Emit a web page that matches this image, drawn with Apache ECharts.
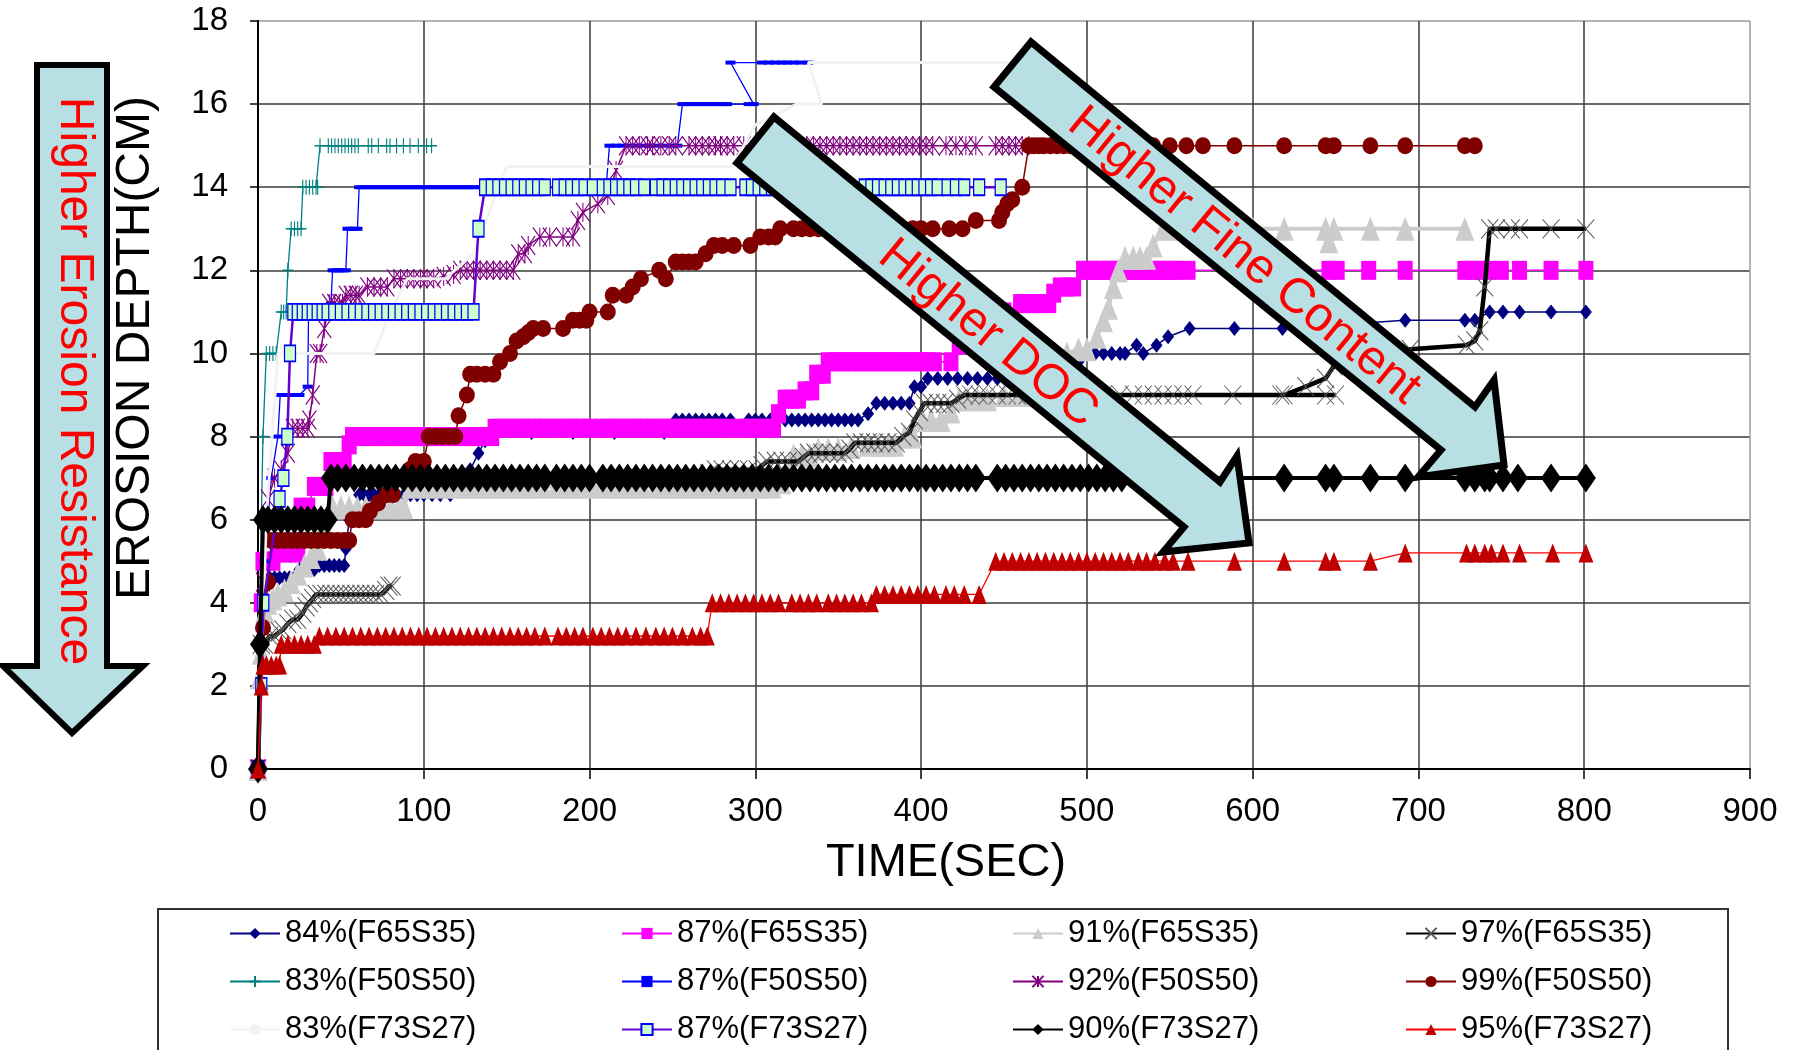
<!DOCTYPE html>
<html><head><meta charset="utf-8">
<script src="https://cdn.jsdelivr.net/npm/echarts@6/dist/echarts.min.js"></script>
<style>html,body{margin:0;padding:0;background:#fff}#c{width:1799px;height:1050px}</style>
</head><body><div id="c"></div>
<script>
// ---------- axis settings ----------
const xMin = 0, xMax = 900, xStep = 100;
const yMin = 0, yMax = 18, yStep = 2;
const xTitle = 'TIME(SEC)';
const yTitle = 'EROSION DEPTH(CM)';

// ---------- series names ----------
const names = ['84%(F65S35)','87%(F65S35)','91%(F65S35)','97%(F65S35)',
               '83%(F50S50)','87%(F50S50)','92%(F50S50)','99%(F50S50)',
               '83%(F73S27)','87%(F73S27)','90%(F73S27)','95%(F73S27)'];

// ---------- data [time, depth] ----------
const d84_F65S35 = [[0,0],[3,4.0],[5,4.4],[7,4.6],[10,4.6],[13,4.6],[16,4.6],[19,4.6],[22,4.6],[25,4.8],[28,4.8],[31,4.8],[34,4.8],[37,4.9],[40,4.9],[43,4.9],[46,4.9],[49,4.9],[52,4.9],[53,5.3],[55,6.0],[58,6.0],[61,6.6],[64,6.6],[67,6.6],[70,6.6],[73,6.6],[76,6.6],[80,6.6],[84,6.6],[88,6.6],[92,6.6],[96,6.6],[100,6.6],[105,6.6],[110,6.6],[116,6.6],[128,7.2],[133,7.6],[137,7.9],[142,8.1],[165,8.1],[190,8.1],[215,8.1],[245,8.1],[252,8.4],[256,8.4],[260,8.4],[264,8.4],[268,8.4],[272,8.4],[276,8.4],[280,8.4],[285,8.4],[296,8.4],[300,8.4],[304,8.4],[309,8.4],[313,8.4],[318,8.4],[322,8.4],[326,8.4],[330,8.4],[334,8.4],[338,8.4],[342,8.4],[346,8.4],[350,8.4],[354,8.4],[358,8.4],[362,8.4],[368,8.55],[373,8.8],[378,8.8],[383,8.8],[388,8.8],[393,8.8],[396,9.2],[400,9.2],[404,9.4],[410,9.4],[416,9.4],[422,9.4],[428,9.4],[434,9.4],[440,9.4],[446,9.4],[452,9.4],[465,9.5],[480,9.6],[495,9.8],[500,10],[505,10],[510,10],[515,10],[520,10],[523,10],[530,10.2],[534,10],[542,10.2],[549,10.4],[562,10.6],[589,10.6],[618,10.6],[692,10.8],[728,10.8],[734,10.8],[743,11],[751,11],[761,11],[780,11],[801,11]];

const d87_F65S35 = [[0,0],[2,4.0],[3,5.0],[6,5.0],[9,5.0],[12,5.2],[16,5.2],[20,5.2],[24,5.2],[26,6.3],[30,6.3],[34,6.8],[38,6.8],[41,6.8],[44,7.4],[48,7.4],[52,7.4],[55,7.8],[57,8.0],[61,8.0],[65,8.0],[69,8.0],[73,8.0],[77,8.0],[81,8.0],[85,8.0],[89,8.0],[93,8.0],[97,8.0],[101,8.0],[105,8.0],[109,8.0],[113,8.0],[117,8.0],[121,8.0],[125,8.0],[129,8.0],[133,8.0],[137,8.0],[141,8.0],[143,8.2],[147,8.2],[151,8.2],[155,8.2],[159,8.2],[163,8.2],[167,8.2],[171,8.2],[174,8.2],[180,8.2],[184,8.2],[188,8.2],[192,8.2],[196,8.2],[200,8.2],[207,8.2],[211,8.2],[215,8.2],[219,8.2],[223,8.2],[227,8.2],[231,8.2],[234,8.2],[239,8.2],[243,8.2],[247,8.2],[251,8.2],[255,8.2],[259,8.2],[263,8.2],[267,8.2],[271,8.2],[275,8.2],[279,8.2],[283,8.2],[291,8.2],[295,8.2],[299,8.2],[303,8.2],[307,8.2],[311,8.2],[314,8.55],[318,8.9],[322,8.9],[326,8.9],[330,9.1],[334,9.1],[337,9.5],[341,9.5],[344,9.8],[348,9.8],[352,9.8],[356,9.8],[360,9.8],[364,9.8],[368,9.8],[372,9.8],[376,9.8],[380,9.8],[384,9.8],[388,9.8],[392,9.8],[396,9.8],[400,9.8],[404,9.8],[408,9.8],[418,9.8],[423,10.2],[430,10.5],[440,10.8],[450,11.0],[460,11.2],[464,11.2],[468,11.2],[472,11.2],[477,11.2],[480,11.45],[484,11.6],[488,11.6],[492,11.6],[498,12],[502,12],[506,12],[510,12],[514,12],[518,12],[522,12],[526,12],[530,12],[534,12],[538,12],[542,12],[546,12],[550,12],[554,12],[561,12],[646,12],[651,12],[670,12],[692,12],[728,12],[733,12],[738,12],[743,12],[750,12],[761,12],[780,12],[801,12]];

const d91_F65S35 = [[0,0],[1,2.2],[2,2.8],[4,3.8],[6,4.0],[9,4.1],[12,4.2],[16,4.3],[20,4.5],[24,4.7],[28,4.9],[32,5.1],[36,5.3],[40,5.8],[45,6.3],[50,6.3],[55,6.3],[60,6.3],[65,6.3],[70,6.3],[75,6.3],[80,6.3],[85,6.3],[88,6.3],[92,6.8],[97,6.8],[102,6.8],[107,6.8],[112,6.8],[117,6.8],[122,6.8],[127,6.8],[132,6.8],[137,6.8],[142,6.8],[147,6.8],[152,6.8],[157,6.8],[162,6.8],[167,6.8],[172,6.8],[180,6.8],[185,6.8],[190,6.8],[195,6.8],[200,6.8],[207,6.8],[212,6.8],[217,6.8],[222,6.8],[227,6.8],[232,6.8],[240,6.8],[245,6.8],[250,6.8],[255,6.8],[260,6.8],[265,6.8],[270,6.8],[275,6.8],[280,6.8],[285,6.8],[290,6.8],[295,6.8],[300,6.8],[305,6.8],[310,6.8],[316,6.9],[323,7.55],[328,7.55],[333,7.55],[338,7.7],[344,7.7],[350,7.7],[358,7.75],[368,7.8],[374,7.8],[380,7.8],[384,7.8],[390,8.0],[395,8.0],[401,8.4],[406,8.4],[412,8.4],[418,8.6],[423,8.9],[428,8.9],[434,8.9],[440,8.9],[450,9.0],[460,9.0],[470,9.2],[480,9.6],[488,10.0],[495,10.1],[500,10.1],[506,10.4],[510,10.8],[513,11.1],[516,11.6],[519,12.0],[523,12.3],[528,12.3],[532,12.3],[536,12.3],[540,12.6],[546,13],[552,13],[558,13],[566,13],[580,13],[600,13],[619,13],[644,13],[646,12.7],[649,13],[671,13],[692,13],[728,13]];

const d97_F65S35 = [[0,0],[2,3.0],[4,3.0],[7,3.2],[10,3.2],[13,3.3],[15,3.35],[18,3.5],[21,3.6],[24,3.6],[27,3.75],[29,3.9],[31,4.0],[33,4.1],[35,4.2],[38,4.2],[41,4.2],[44,4.2],[47,4.2],[50,4.2],[53,4.2],[56,4.2],[59,4.2],[62,4.2],[65,4.2],[68,4.2],[71,4.2],[74,4.2],[77,4.3],[79,4.4],[81,4.4],[82,'-'],
  [272,7.1],[276,7.2],[280,7.2],[285,7.2],[290,7.2],[296,7.2],[301,7.2],[304,7.3],[307,7.4],[312,7.4],[316,7.4],[320,7.4],[326,7.4],[329,7.5],[332,7.6],[336,7.6],[340,7.6],[345,7.6],[350,7.6],[354,7.6],[357,7.7],[360,7.85],[364,7.85],[368,7.85],[372,7.85],[376,7.85],[380,7.85],[385,7.85],[389,8.0],[393,8.1],[396,8.4],[399,8.6],[402,8.8],[406,8.8],[410,8.8],[414,8.8],[418,8.8],[422,8.9],[426,9.0],[430,9.0],[435,9.0],[440,9.0],[446,9.0],[452,9.0],[458,9.0],[464,9.0],[470,9.0],[476,9.0],[482,9.0],[490,9.0],[500,9.0],[510,9.0],[520,9.0],[528,9.0],[534,9.0],[540,9.0],[546,9.0],[552,9.0],[558,9.0],[564,9.0],[588,9.0],[617,9.0],[644,9.0],[650,9.0],[651,'-'],
  [619,9.0],[632,9.2],[644,9.4],[649,9.7],[660,9.9],[695,10.1],[729,10.2],[734,10.3],[737,10.55],[740,11.6],[743,13],[747,13],[756,13],[761,13],[780,13],[801,13]];

const d83_F50S50 = [[0,0],[2,6],[3,8],[5,10],[7,10],[9,10],[11,10],[14,11],[15.5,11],[17,11],[18,12],[20,13],[22,13],[24,13],[26,13],[27,14],[29,14],[31,14],[33,14],[35,14],[36,14],[37.4,15],[42.4,15],[44.4,15],[46.4,15],[48.4,15],[50.5,15],[52.5,15],[54.5,15],[56.5,15],[58.5,15],[60.5,15],[66.5,15],[68.6,15],[72.6,15],[77.6,15],[79.6,15],[83.6,15],[87.7,15],[91.7,15],[96.7,15],[101.7,15],[104.7,15]];

const d87_F50S50 = [[0,0],[4,5],[8,7],[12,8],[13.4,9],[16,9],[19,9],[22,9],[25,9],[30,9.2],[30.5,11],[35,11],[40,11],[44,11.2],[45,12],[47,12],[49,12],[51,12],[53,12],[54,13],[56,13],[58,13],[60,13],[61,14],[64,14],[67,14],[70,14],[73,14],[76,14],[79,14],[82,14],[85,14],[88,14],[91,14],[94,14],[97,14],[100,14],[103,14],[106,14],[109,14],[112,14],[115,14],[118,14],[121,14],[124,14],[127,14],[130,14],[134,14],[170,14],[210,14],[212,15],[216,15],[220,15],[224,15],[228,15],[232,15],[236,15],[241,15],[246,15],[250,15],[253,15],[256,16],[259,16],[262,16],[265,16],[268,16],[271,16],[274,16],[277,16],[280,16],[283,16],[296,16],[299,16],[285,17],[304,17],[308,17],[312,17],[316,17],[319,17],[323,17],[327,17],[332,17]];

const d92_F50S50 = [[0,0],[3,4.5],[6,6.5],[10,7.0],[14,7.2],[18,7.6],[21,8.2],[24,8.2],[27,8.2],[30,8.2],[31,8.4],[33,9.0],[35.5,10.0],[37.5,10.0],[40,10.6],[43,11.2],[46,11.2],[49,11.2],[51,11.2],[53,11.4],[56,11.4],[59,11.4],[61,11.4],[66,11.6],[70,11.6],[74,11.6],[78,11.6],[82,11.8],[86,11.8],[90,11.8],[94,11.8],[98,11.8],[102,11.8],[106,11.8],[112,11.85],[118,11.9],[122,12.0],[126,12.0],[130,12.0],[134,12],[138,12],[142,12],[146,12],[150,12],[154,12],[157,12.4],[161,12.4],[163,12.6],[170,12.8],[176,12.8],[184,12.8],[190,12.8],[193,13.2],[196,13.4],[205,13.6],[211,13.8],[216,14.4],[222,15],[226,15],[230,15],[235,15],[238,15],[243,15],[248,15],[252,15],[260,15],[264,15],[268,15],[272,15],[276,15],[279,15],[283,15],[287,15],[293,15],[305,15],[318,15],[331,15],[335,15],[339,15],[343,15],[347,15],[351,15],[355,15],[359,15],[363,15],[367,15],[371,15],[375,15],[379,15],[383,15],[387,15],[391,15],[395,15],[399,15],[403,15],[407,15],[415,15],[421,15],[427,15],[433,15],[445,15],[449,15],[453,15],[457,15],[461,15]];

const d99_F50S50 = [[0,0],[3,3.4],[6,4.5],[8,5.5],[12,5.5],[16,5.5],[20,5.5],[24,5.5],[28,5.5],[32,5.5],[36,5.5],[40,5.5],[44,5.5],[48,5.5],[52,5.5],[55,5.5],[57,6.0],[61,6.0],[65,6.0],[67.5,6.2],[72.5,6.4],[77.5,6.6],[81.5,6.6],[91.5,7.2],[95,7.4],[100,7.4],[103,8.0],[107,8.0],[111,8.0],[115,8.0],[119,8.0],[121,8.5],[126,9.0],[128,9.5],[132,9.5],[137,9.5],[142,9.5],[146,9.8],[152,10.0],[156,10.3],[160,10.4],[163,10.5],[166,10.6],[172,10.6],[184,10.6],[190,10.8],[194,10.8],[198,10.8],[200,11.0],[211,11.0],[214,11.4],[222,11.4],[226,11.6],[231,11.8],[242,12.0],[246,11.8],[252,12.2],[256,12.2],[260,12.2],[264,12.2],[270,12.4],[275,12.6],[280,12.6],[287,12.6],[297,12.6],[303,12.8],[308,12.8],[312,12.8],[315,13.0],[323,13],[328,13],[333,13],[338,13],[343,13],[350,13],[360,13],[370,13],[380,13],[395,13],[400,13],[407,13],[417,13],[425,13],[433,13.2],[447,13.2],[449,13.4],[452,13.6],[455,13.7],[461,14.0],[465,15],[468,15],[471,15],[474,15],[478,15],[482,15],[486,15],[490,15],[500,15],[510,15],[520,15],[534,15],[540,15],[550,15],[560,15],[570,15],[589,15],[619,15],[644,15],[649,15],[671,15],[692,15],[728,15],[734,15]];

const d83_F73S27 = [[0,0],[5,6],[12,10],[30,10],[50,10],[70,10],[80,11],[90,11.8],[113,11.8],[130,12.4],[150,14.5],[200,14.5],[236,14.5],[260,14.5],[286,14.5],[300,15.5],[325,16],[340,16],[332,17],[350,17],[400,17],[453,17]];

const d87_F73S27 = [[0,0],[2,2.0],[3.2,4.0],[13,6.5],[15.3,7.0],[17.7,8.0],[19.3,10.0],[21.3,11.0],[24,11],[27,11],[30,11],[33,11],[36,11],[39,11],[42,11],[46,11],[50,11],[54,11],[58,11],[62,11],[66,11],[70,11],[74,11],[78,11],[82,11],[86,11],[90,11],[94,11],[98,11],[102,11],[106,11],[110,11],[114,11],[118,11],[122,11],[126,11],[130,11],[133,13],[137,14],[141,14],[145,14],[149,14],[153,14],[157,14],[161,14],[165,14],[169,14],[173,14],[181,14],[185,14],[189,14],[193,14],[197,14],[202,14],[208,14],[212,14],[216,14],[220,14],[224,14],[228,14],[233,14],[240,14],[244,14],[248,14],[252,14],[256,14],[260,14],[264,14],[268,14],[272,14],[276,14],[280,14],[285,14],[294,14],[298,14],[302,14],[306,14],[310,14],[330,14],[350,14],[366,14],[370,14],[374,14],[378,14],[382,14],[386,14],[390,14],[394,14],[398,14],[402,14],[406,14],[410,14],[416,14],[421,14],[426,14],[435,14],[448,14]];

const d90_F73S27 = [[0,0],[1.2,3.0],[3,6],[6,6],[10,6],[14,6],[18,6],[22,6],[26,6],[30,6],[34,6],[38,6],[42,6],[44,7],[48,7],[53,7],[58,7],[63,7],[68,7],[73,7],[78,7],[83,7],[88,7],[93,7],[98,7],[103,7],[108,7],[113,7],[118,7],[123,7],[128,7],[133,7],[138,7],[143,7],[148,7],[153,7],[158,7],[163,7],[168,7],[173,7],[180,7],[185,7],[190,7],[195,7],[200,7],[208,7],[213,7],[218,7],[223,7],[228,7],[233,7],[238,7],[243,7],[248,7],[253,7],[258,7],[263,7],[268,7],[273,7],[278,7],[283,7],[288,7],[293,7],[298,7],[303,7],[308,7],[313,7],[318,7],[323,7],[328,7],[333,7],[338,7],[343,7],[348,7],[353,7],[358,7],[363,7],[368,7],[373,7],[378,7],[383,7],[388,7],[393,7],[398,7],[403,7],[408,7],[413,7],[418,7],[423,7],[428,7],[433,7],[446,7],[451,7],[456,7],[461,7],[466,7],[471,7],[476,7],[481,7],[486,7],[491,7],[496,7],[501,7],[506,7],[511,7],[516,7],[521,7],[530,7],[540,7],[619,7],[644,7],[649,7],[671,7],[692,7],[728,7],[734,7],[740,7],[743,7],[751,7],[760,7],[780,7],[801,7]];

const d95_F73S27 = [[0,0],[2,2.0],[3,2.5],[5,2.5],[8,2.5],[11,2.5],[13,2.5],[14,3.0],[18,3.0],[22,3.0],[26,3.0],[30,3.0],[34,3.0],[37,3.2],[42,3.2],[47,3.2],[52,3.2],[57,3.2],[62,3.2],[67,3.2],[72,3.2],[77,3.2],[82,3.2],[87,3.2],[92,3.2],[97,3.2],[102,3.2],[107,3.2],[112,3.2],[117,3.2],[122,3.2],[127,3.2],[132,3.2],[137,3.2],[142,3.2],[147,3.2],[152,3.2],[157,3.2],[162,3.2],[167,3.2],[173,3.2],[181,3.2],[186,3.2],[191,3.2],[196,3.2],[202,3.2],[207,3.2],[212,3.2],[217,3.2],[222,3.2],[228,3.2],[234,3.2],[240,3.2],[245,3.2],[250,3.2],[256,3.2],[262,3.2],[267,3.2],[271,3.2],[274,4.0],[279,4.0],[284,4.0],[289,4.0],[294,4.0],[299,4.0],[304,4.0],[309,4.0],[314,4.0],[322,4.0],[327,4.0],[332,4.0],[337,4.0],[344,4.0],[349,4.0],[354,4.0],[359,4.0],[364,4.0],[370,4.0],[373,4.2],[378,4.2],[383,4.2],[388,4.2],[393,4.2],[398,4.2],[403,4.2],[408,4.2],[415,4.2],[420,4.2],[426,4.2],[435,4.2],[445,5.0],[450,5.0],[455,5.0],[460,5.0],[465,5.0],[470,5.0],[475,5.0],[480,5.0],[485,5.0],[490,5.0],[495,5.0],[500,5.0],[505,5.0],[510,5.0],[515,5.0],[520,5.0],[525,5.0],[531,5.0],[536,5.0],[541,5.0],[547,5.0],[552,5.0],[561,5.0],[589,5.0],[619,5.0],[644,5.0],[649,5.0],[671,5.0],[692,5.2],[729,5.2],[734,5.2],[740,5.2],[744,5.2],[751,5.2],[761,5.2],[781,5.2],[801,5.2]];

const allData = [d84_F65S35,d87_F65S35,d91_F65S35,d97_F65S35,d83_F50S50,d87_F50S50,d92_F50S50,d99_F50S50,d83_F73S27,d87_F73S27,d90_F73S27,d95_F73S27];

// ---------- styles ----------
const FONT = '"Liberation Sans", Arial, sans-serif';
const X_PATH = 'path://M0,0L10,10M10,0L0,10';
const PLUS_PATH = 'path://M5,0L5,10M0,5L10,5';
const STAR_PATH = 'path://M0,0L10,10M10,0L0,10M5,0L5,10';
const styles = [
  {line:'#000080', lw:1.5, sym:'diamond', size:[12,15], fill:'#000080'},
  {line:'#FF00FF', lw:1.5, sym:'rect', size:[15,19], fill:'#FF00FF'},
  {line:'#CCCCCC', lw:4, sym:'triangle', size:[19,24], fill:'#CCCCCC'},
  {line:'#000000', lw:4.5, sym:X_PATH, size:[17,19], fill:'none', border:'#555555', bw:1},
  {line:'#008080', lw:1.3, sym:PLUS_PATH, size:[11,15], fill:'none', border:'#008080', bw:1.3},
  {line:'#0000FF', lw:1.3, sym:'rect', size:[10,4], fill:'#0000FF'},
  {line:'#800080', lw:1.5, sym:STAR_PATH, size:[14,19], fill:'none', border:'#800080', bw:1.2},
  {line:'#800000', lw:1.5, sym:'circle', size:[16,17], fill:'#800000'},
  {line:'#F2F2F2', lw:3, sym:'none', size:1, fill:'#F2F2F2'},
  {line:'#6600CC', lw:2.5, sym:'rect', size:[11,16], fill:'#CCFFCC', border:'#0000FF', bw:1.5},
  {line:'#000000', lw:4, sym:'diamond', size:[20,29], fill:'#000000'},
  {line:'#FF0000', lw:1.3, sym:'triangle', size:[15,19], fill:'#C00000'}
];

const series = names.map((n,i)=>{
  const s = styles[i];
  return {
    name:n, type:'line', data:allData[i], symbol:s.sym, symbolSize:s.size,
    showAllSymbol:true, connectNulls:false, silent:true, z: 2+i,
    lineStyle:{color:s.line, width:s.lw},
    itemStyle:{color:s.fill, borderColor:s.border||s.fill, borderWidth:s.bw||0},
    emphasis:{disabled:true}
  };
});

function legendCol(idx, left){
  return {
    show:true, orient:'vertical', left:left, top:918, padding:0,
    itemWidth:50, itemHeight:14, itemGap:17, selectedMode:false,
    data: idx.map(k=>names[k]),
    textStyle:{fontSize:31, color:'#000', fontFamily:FONT, padding:[0,0,0,0]}
  };
}

const gridCol = ['#3a3a3a','#3a3a3a','#3a3a3a','#3a3a3a','#3a3a3a','#3a3a3a','#3a3a3a','#3a3a3a','#3a3a3a','#9a9a9a'];

const chart = echarts.init(document.getElementById('c'), null, {renderer:'canvas'});
chart.setOption({
  animation:false,
  backgroundColor:'#ffffff',
  grid:{left:258, right:49, top:21, bottom:281, containLabel:false},
  xAxis:{type:'value', min:xMin, max:xMax, interval:xStep,
    axisLine:{show:true, lineStyle:{color:'#000', width:2}},
    axisTick:{show:true, length:10, lineStyle:{color:'#000', width:1.5}},
    axisLabel:{fontSize:33, color:'#000', fontFamily:FONT, margin:26},
    splitLine:{show:true, lineStyle:{color:gridCol, width:1.5}}},
  yAxis:{type:'value', min:yMin, max:yMax, interval:yStep,
    axisLine:{show:true, lineStyle:{color:'#000', width:2}},
    axisTick:{show:true, length:8, lineStyle:{color:'#000', width:1.5}},
    axisLabel:{fontSize:33, color:'#000', fontFamily:FONT, margin:30},
    splitLine:{show:true, lineStyle:{color:gridCol, width:1.5}}},
  legend:[legendCol([0,4,8],229), legendCol([1,5,9],621), legendCol([2,6,10],1012), legendCol([3,7,11],1405)],
  series: series,
  graphic:[
    {type:'rect', z:50, silent:true, shape:{x:158, y:909, width:1570, height:200},
      style:{fill:'none', stroke:'#333', lineWidth:2}},
    {type:'text', z:50, silent:true, x:946, y:863,
      style:{text:xTitle, fontSize:47, fontFamily:FONT, fill:'#000', align:'center', verticalAlign:'middle'}},
    {type:'text', z:50, silent:true, x:136, y:348, rotation:Math.PI/2,
      style:{text:yTitle, fontSize:48, fontFamily:FONT, fill:'#000', align:'center', verticalAlign:'middle'}},
    {type:'polygon', z:100, silent:true,
      shape:{points:[[37,65],[107,65],[107,666],[143,666],[72,733],[3,666],[37,666]]},
      style:{fill:'#B8DFE3', stroke:'#000', lineWidth:6, lineJoin:'miter'}},
    {type:'text', z:101, silent:true, x:74, y:381, rotation:-Math.PI/2,
      style:{text:'Higher Erosion Resistance', fontSize:48, fontFamily:FONT, fill:'#FF0000', align:'center', verticalAlign:'middle'}},
    {type:'polygon', z:100, silent:true,
      shape:{points:[[774,117],[1220,482],[1237,456],[1249,543],[1163,552],[1184,527],[737,163]]},
      style:{fill:'#B8DFE3', stroke:'#000', lineWidth:7, lineJoin:'miter'}},
    {type:'text', z:101, silent:true, x:988, y:334, rotation:-0.686,
      style:{text:'Higher DOC', fontSize:49, fontFamily:FONT, fill:'#FF0000', align:'center', verticalAlign:'middle'}},
    {type:'polygon', z:100, silent:true,
      shape:{points:[[1031,42],[1475,407],[1494,380],[1504,465],[1418,477],[1441,450],[994,87]]},
      style:{fill:'#B8DFE3', stroke:'#000', lineWidth:7, lineJoin:'miter'}},
    {type:'text', z:101, silent:true, x:1244, y:256, rotation:-0.686,
      style:{text:'Higher Fine Content', fontSize:49, fontFamily:FONT, fill:'#FF0000', align:'center', verticalAlign:'middle'}}
  ]
});
</script></body></html>
